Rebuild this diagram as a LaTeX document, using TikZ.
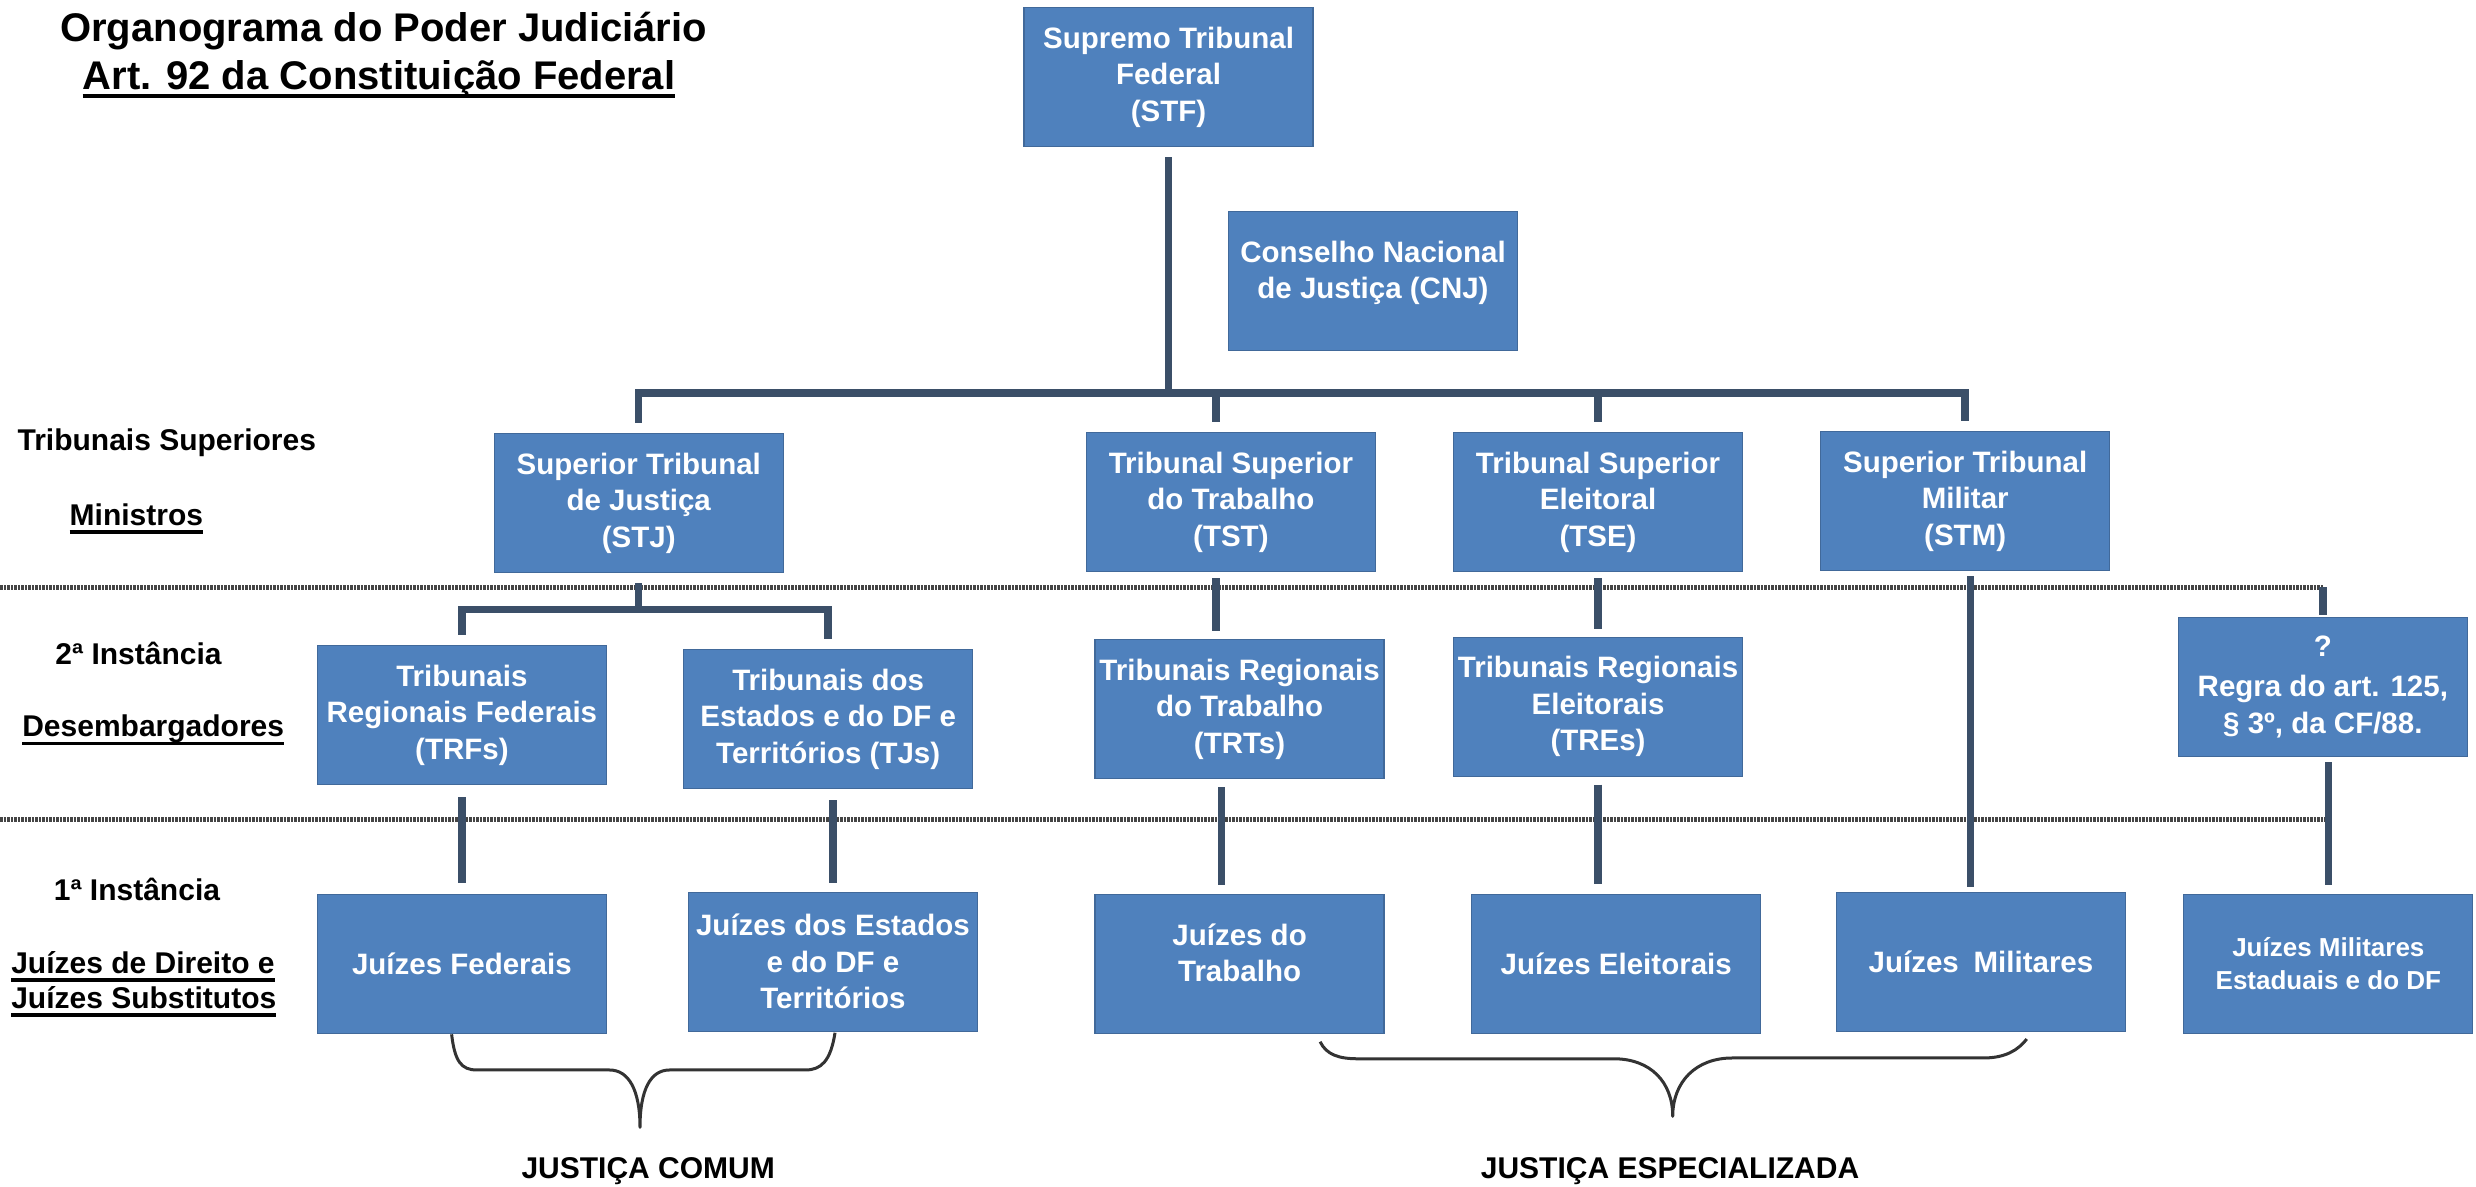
\documentclass[tikz,border=0pt]{standalone}
\usepackage{fontspec}
\setmainfont{Liberation Sans}
\usetikzlibrary{calc}
\definecolor{boxblue}{HTML}{4F81BD}
\definecolor{boxedge}{HTML}{41699A}
\definecolor{lineclr}{HTML}{3B4F68}
\definecolor{sepclr}{HTML}{454545}
\definecolor{braceclr}{HTML}{333333}
\newsavebox\undlbox
\newcommand\undl[2][3.5pt]{\leavevmode\sbox\undlbox{#2}\rlap{\usebox\undlbox}\rule[\dimexpr-5pt-#1\relax]{\wd\undlbox}{#1}}
\begin{document}
\begin{tikzpicture}[x=1.579082pt, y=-1.579082pt,
  box/.style={fill=boxblue, draw=boxedge, line width=1.2pt, text=white, align=center,
    inner sep=0pt, minimum width=289pt, minimum height=139pt,
    font=\fontsize{29.5}{36.5}\selectfont\bfseries},
  smallbox/.style={box, font=\fontsize{26}{33}\selectfont\bfseries},
  conn/.style={draw=lineclr, line width=7.5pt},
  sepline/.style={draw=sepclr, line width=4.5pt, dash pattern=on 2.5pt off 1pt},
  lbl/.style={inner sep=0pt, font=\fontsize{30}{36}\selectfont\bfseries},
  ttl/.style={inner sep=0pt, font=\fontsize{40}{48}\selectfont\bfseries},
  brace/.style={draw=braceclr, line width=3pt, line join=round}]

\fill[white] (0,0) rectangle (1568,751.7);
\useasboundingbox (0,0) rectangle (1568,751.7);

% separators
\coordinate (d1s) at (0,372);
\coordinate (q0) at (1471,372);
\coordinate (d2s) at (0,519);
\coordinate (d2e) at (1474.5,519);
\draw[sepline] (d1s) -- (q0);
\draw[sepline] (d2s) -- (d2e);

% title
\node[ttl, anchor=base] (t1) at (243,26) {Organograma do Poder Judiciário};
\node[ttl, anchor=base] (t2) at (240,56.5) {\undl[4pt]{Art. 92 da Constituição Federal}};

% left labels
\node[lbl, anchor=base west] (ts) at (11,285) {Tribunais Superiores};
\node[lbl, anchor=base west] (min) at (44,332.5) {\undl{Ministros}};
\node[lbl, anchor=base west] (i2) at (35,421) {2ª Instância};
\node[lbl, anchor=base west] (des) at (14,466.5) {\undl{Desembargadores}};
\node[lbl, anchor=base west] (i1) at (34,570) {1ª Instância};
\node[lbl, anchor=base west] (jd) at (7,616.4) {\undl{Juízes de Direito e}};
\node[lbl, anchor=base west] (js) at (7,638.6) {\undl{Juízes Substitutos}};

% boxes
\node[box] (stf) at (740,49) {Supremo Tribunal\\Federal\\(STF)};
\node[box] (cnj) at (869.5,178) {Conselho Nacional\\de Justiça (CNJ)\\[-14pt]\mbox{}};
\node[box] (stj) at (404.5,318.5) {Superior Tribunal\\de Justiça\\(STJ)};
\node[box] (tst) at (779.5,318) {Tribunal Superior\\do Trabalho\\(TST)};
\node[box] (tse) at (1012,318) {Tribunal Superior\\Eleitoral\\(TSE)};
\node[box] (stm) at (1244.5,317.5) {Superior Tribunal\\Militar\\(STM)};
\node[box] (trf) at (292.5,453) {Tribunais\\Regionais Federais\\(TRFs)};
\node[box] (tj) at (524.5,455.5) {Tribunais dos\\Estados e do DF e\\Territórios (TJs)};
\node[box] (trt) at (785,449) {Tribunais Regionais\\do Trabalho\\(TRTs)};
\node[box] (tre) at (1012,447.5) {Tribunais Regionais\\Eleitorais\\(TREs)};
\node[box] (q) at (1471,435) {?\\[4pt]Regra do art. 125,\\§ 3º, da CF/88.};
\node[box] (jf) at (292.5,610.5) {Juízes Federais};
\node[box] (je) at (527.5,609) {Juízes dos Estados\\e do DF e\\Territórios};
\node[box] (jt) at (785,610.5) {Juízes do\\Trabalho\\[-14pt]\mbox{}};
\node[box] (jel) at (1023.5,610.5) {Juízes Eleitorais};
\node[box] (jm) at (1254.5,609) {Juízes\enspace Militares};
\node[smallbox] (jme) at (1474.5,610.5) {Juízes Militares\\Estaduais e do DF};

% top bus
\coordinate (bus) at (740,249);
\draw[conn, shorten <=10pt] (stf.south) -- (stf.south |- bus);
\draw[conn, line cap=rect] (stj.north |- bus) -- (stm.north |- bus);
\draw[conn, shorten >=10pt] (stj.north |- bus) -- (stj.north);
\draw[conn, shorten >=10pt] ([xshift=-15pt]tst.north |- bus) -- ([xshift=-15pt]tst.north);
\draw[conn, shorten >=10pt] (tse.north |- bus) -- (tse.north);
\draw[conn, shorten >=10pt] (stm.north |- bus) -- (stm.north);

% STJ sub-bus
\coordinate (sub) at (404.5,386);
\draw[conn, shorten <=10pt] (stj.south) -- (stj.south |- sub);
\draw[conn, line cap=rect] (trf.north |- sub) -- (tj.north |- sub);
\draw[conn, shorten >=10pt] (trf.north |- sub) -- (trf.north);
\draw[conn, shorten >=10pt] (tj.north |- sub) -- (tj.north);

% second level
\draw[conn, shorten <=6pt, shorten >=8pt] ([xshift=-15pt]tst.south) -- ([xshift=-15pt]tst.south |- trt.north);
\draw[conn, shorten <=6pt, shorten >=8pt] (tse.south) -- (tre.north);
\draw[conn, shorten <=5pt, shorten >=5pt] ([xshift=5.5pt]stm.south) -- ([xshift=5.5pt]stm.south |- jm.north);
\draw[conn, shorten >=2pt] (q0) -- (q.north);

% first level
\draw[conn, shorten <=12pt, shorten >=11pt] (trf.south) -- (jf.north);
\draw[conn, shorten <=11pt, shorten >=9pt] (je.north |- tj.south) -- (je.north);
\draw[conn, shorten <=8pt, shorten >=9pt] ([xshift=-18pt]trt.south) -- ([xshift=-18pt]trt.south |- jt.north);
\draw[conn, shorten <=8pt, shorten >=10pt] (tre.south) -- (tre.south |- jel.north);
\draw[conn, shorten <=5pt, shorten >=9pt] (jme.north |- q.south) -- (jme.north);

% braces
\draw[brace] (286,655) .. controls (288,672) and (292,677.6) .. (302,677.6) -- (386,677.6)
  .. controls (398,677.6) and (405.3,690) .. (405.3,714)
  .. controls (405.3,690) and (412,677.6) .. (424,677.6) -- (510,677.6)
  .. controls (520,677.6) and (526,672) .. (528.8,654);
\draw[brace] (836,659.7) .. controls (840,668) and (848,670.5) .. (860,670.5) -- (1022,670.5)
  .. controls (1045,670.5) and (1059.3,685) .. (1059.3,707)
  .. controls (1059.3,685) and (1074,670) .. (1097,670) -- (1256,670)
  .. controls (1270,670) and (1278,665) .. (1283.5,658);

% bottom labels
\node[lbl, anchor=base] (jc) at (410.5,746) {JUSTIÇA COMUM};
\node[lbl, anchor=base] (jes) at (1057.6,746) {JUSTIÇA ESPECIALIZADA};

\end{tikzpicture}
\end{document}
